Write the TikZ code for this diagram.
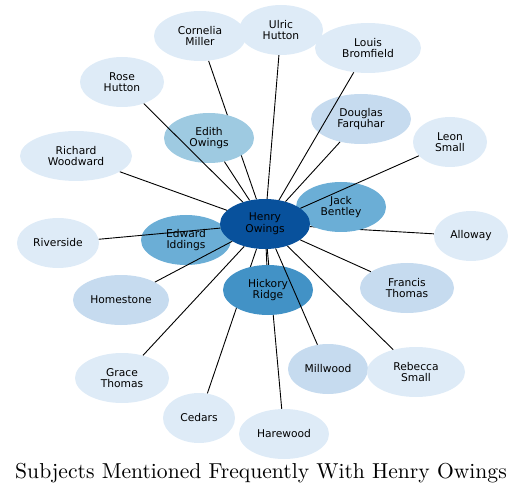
\documentclass[tikz,border=0pt]{standalone}
\usepackage{fontspec}
\newfontfamily\nodefont{DejaVu Sans}
\usetikzlibrary{shapes.geometric}
\definecolor{c1}{HTML}{08519C}
\definecolor{c2}{HTML}{4292C6}
\definecolor{c3}{HTML}{6BAED6}
\definecolor{c4}{HTML}{9ECAE1}
\definecolor{c5}{HTML}{C6DBEF}
\definecolor{c6}{HTML}{DEEBF7}
\pgfdeclarelayer{bg}
\pgfsetlayers{bg,main}
\tikzset{
  ent/.style={ellipse, draw=none, inner sep=0pt, minimum height=50pt, align=center,
    font=\nodefont\fontsize{10.7}{11.6}\selectfont, text=black},
  link/.style={draw=black, line width=0.9pt}
}
\begin{document}
\begin{tikzpicture}[x=1pt,y=-1pt]
\useasboundingbox (0,0) rectangle (527,494);
% nodes
\node[ent, fill=c6, minimum width=92pt] (cornelia) at (200,36) {Cornelia\\Miller};
\node[ent, fill=c6, minimum width=84pt] (ulric) at (281,30) {Ulric\\Hutton};
\node[ent, fill=c6, minimum width=106pt] (louis) at (368,48) {Louis\\Bromfield};
\node[ent, fill=c6, minimum width=84pt] (rose) at (122,82) {Rose\\Hutton};
\node[ent, fill=c6, minimum width=112pt] (richard) at (76,156) {Richard\\Woodward};
\node[ent, fill=c6, minimum width=74pt] (leon) at (450,142) {Leon\\Small};
\node[ent, fill=c5, minimum width=100pt] (douglas) at (361,119) {Douglas\\Farquhar};
\node[ent, fill=c4, minimum width=90pt] (edith) at (209,138) {Edith\\Owings};
\node[ent, fill=c6, minimum width=82pt] (riverside) at (58,243) {Riverside};
\node[ent, fill=c6, minimum width=74pt] (alloway) at (471,236) {Alloway};
\node[ent, fill=c5, minimum width=96pt] (homestone) at (121,300) {Homestone};
\node[ent, fill=c5, minimum width=94pt] (francis) at (407,288) {Francis\\Thomas};
\node[ent, fill=c6, minimum width=94pt] (grace) at (122,378) {Grace\\Thomas};
\node[ent, fill=c5, minimum width=80pt] (millwood) at (328,369) {Millwood};
\node[ent, fill=c6, minimum width=98pt] (rebecca) at (416,372) {Rebecca\\Small};
\node[ent, fill=c6, minimum width=72pt] (cedars) at (199,418) {Cedars};
\node[ent, fill=c6, minimum width=90pt] (harewood) at (284,434) {Harewood};
\node[ent, fill=c3, minimum width=90pt] (jack) at (341,207) {Jack\\Bentley};
\node[ent, fill=c3, minimum width=90pt] (edward) at (186,240) {Edward\\Iddings};
\node[ent, fill=c2, minimum width=90pt] (hickory) at (268,290) {Hickory\\Ridge};
\node[ent, fill=c1, minimum width=90pt] (henry) at (265,224) {Henry\\Owings};
% hidden edges
\begin{pgfonlayer}{bg}
\draw[link] (henry) -- (cornelia);
\draw[link] (henry) -- (alloway);
\draw[link] (henry) -- (harewood);
\draw[link] (henry) -- (cedars);
\end{pgfonlayer}
% visible edges
\draw[link] (henry) -- (ulric);
\draw[link] (henry) -- (louis);
\draw[link] (henry) -- (rose);
\draw[link] (henry) -- (richard);
\draw[link] (henry) -- (leon);
\draw[link] (henry) -- (douglas);
\draw[link] (henry) -- (edith);
\draw[link] (henry) -- (riverside);
\draw[link] (henry) -- (homestone);
\draw[link] (henry) -- (francis);
\draw[link] (henry) -- (grace);
\draw[link] (henry) -- (millwood);
\draw[link] (henry) -- (rebecca);
\draw[link] (henry) -- (hickory);
% title
\node[anchor=base, scale=2.16, inner sep=0pt] (title) at (261,478)
  {\fontsize{10}{12}\selectfont Subjects Mentioned Frequently With Henry Owings};
\end{tikzpicture}
\end{document}
